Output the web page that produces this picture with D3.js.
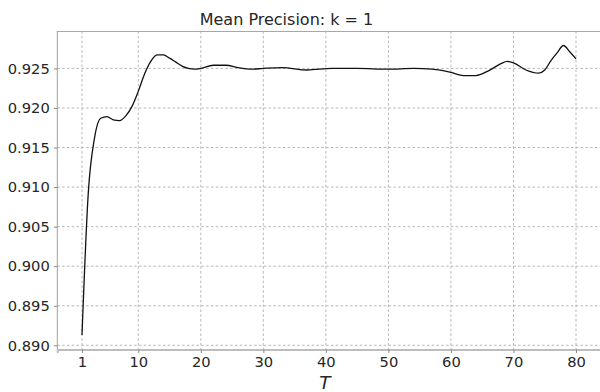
<!DOCTYPE html>
<html>
<head>
<meta charset="utf-8">
<script src="https://cdn.jsdelivr.net/npm/d3@7"></script>
<style>
  html, body { margin: 0; padding: 0; background: #fff; }
  svg { display: block; font-family: "DejaVu Sans", sans-serif; }
</style>
</head>
<body>
<svg id="chart" width="600" height="392"></svg>
<script>
const titleText = "Mean Precision: k = 1";
const xLabel = "T";
const xTicks = [1, 10, 20, 30, 40, 50, 60, 70, 80];
const yTicks = [0.890, 0.895, 0.900, 0.905, 0.910, 0.915, 0.920, 0.925];
const tValues = [1, 2, 3, 4, 5, 6, 7, 8, 9, 10, 11, 12, 13, 14, 15, 16, 17, 18, 19, 20,
  22, 24, 26, 28, 30, 33, 37, 41, 45, 50, 54, 57, 60, 62, 64, 66, 68, 69, 70, 72, 74, 75, 76, 77, 78, 79, 80];
const precision = [0.8913, 0.9092, 0.9162, 0.9187, 0.9189, 0.9185, 0.9184, 0.9190, 0.9202, 0.9221,
  0.9243, 0.9259, 0.9267, 0.9267, 0.9263, 0.9258, 0.9253, 0.9250, 0.9249, 0.9250,
  0.9254, 0.9254, 0.9251, 0.9249, 0.9250, 0.9251, 0.9248, 0.9250, 0.9250, 0.9249,
  0.9250, 0.9249, 0.9245, 0.9241, 0.9241, 0.9247, 0.9256, 0.9259, 0.9257, 0.9248,
  0.9244, 0.9248, 0.9260, 0.9270, 0.9279, 0.9271, 0.9262];

(function () {
const data = tValues.map((t, i) => ({ t, v: precision[i] }));

const svg = d3.select("#chart");
const pl = 57.3, pr = 600.7, pt = 31, pb = 349.5;

const xMin = d3.min(tValues), xMax = d3.max(tValues);
const xPad = (xMax - xMin) * 0.05;
const x = d3.scaleLinear().domain([xMin - xPad, xMax + xPad]).range([pl, pr]);

const yMin = d3.min(precision), yMax = d3.max(precision);
const yPad = (yMax - yMin) * 0.05;
const y = d3.scaleLinear().domain([yMin - yPad, yMax + yPad]).range([pb, pt]);

// grid
const grid = svg.append("g");
grid.selectAll(".vg").data(xTicks).enter().append("line")
  .attr("x1", d => x(d)).attr("x2", d => x(d))
  .attr("y1", pt).attr("y2", pb)
  .attr("stroke", "#b0b0b0").attr("stroke-width", 0.9).attr("stroke-dasharray", "2.6,2.2");
grid.selectAll(".hg").data(yTicks).enter().append("line")
  .attr("x1", pl).attr("x2", pr)
  .attr("y1", d => y(d)).attr("y2", d => y(d))
  .attr("stroke", "#b0b0b0").attr("stroke-width", 0.9).attr("stroke-dasharray", "2.6,2.2");

// spines
svg.append("line").attr("x1", pl).attr("x2", pr).attr("y1", pt + 0.5).attr("y2", pt + 0.5)
  .attr("stroke", "#a8a8a8").attr("stroke-width", 1);
svg.append("line").attr("x1", pl).attr("x2", pl).attr("y1", pt).attr("y2", pb)
  .attr("stroke", "#a0a0a0").attr("stroke-width", 1);

// axes
const xAxis = d3.axisBottom(x).tickValues(xTicks).tickSize(3.5).tickPadding(4).tickFormat(d3.format("d"));
const gx = svg.append("g").attr("transform", `translate(0,${pb})`).call(xAxis);
gx.select(".domain").attr("stroke", "#bdbdbd").attr("stroke-width", 2);
gx.selectAll(".tick line").attr("stroke", "#8a8a8a");
gx.selectAll("text").attr("font-size", "14.7px").attr("fill", "#262626")
  .attr("font-family", "DejaVu Sans");

const yAxis = d3.axisLeft(y).tickValues(yTicks).tickSize(3.5).tickPadding(4).tickFormat(d3.format(".3f"));
const gy = svg.append("g").attr("transform", `translate(${pl},0)`).call(yAxis);
gy.select(".domain").remove();
gy.selectAll(".tick line").attr("stroke", "#8a8a8a");
gy.selectAll("text").attr("font-size", "14.7px").attr("fill", "#262626")
  .attr("font-family", "DejaVu Sans");

// line
const line = d3.line().x(d => x(d.t)).y(d => y(d.v)).curve(d3.curveMonotoneX);
svg.append("path").datum(data).attr("d", line)
  .attr("fill", "none").attr("stroke", "#111").attr("stroke-width", 1.3);

// title
svg.append("text").attr("x", 286.5).attr("y", 25).attr("text-anchor", "middle")
  .attr("font-size", "16px").attr("fill", "#262626").text(titleText);

// x label
svg.append("text").attr("x", 325).attr("y", 389).attr("text-anchor", "middle")
  .attr("font-size", "18.5px").attr("font-style", "italic").attr("fill", "#262626").text(xLabel);
})();
</script>
</body>
</html>
